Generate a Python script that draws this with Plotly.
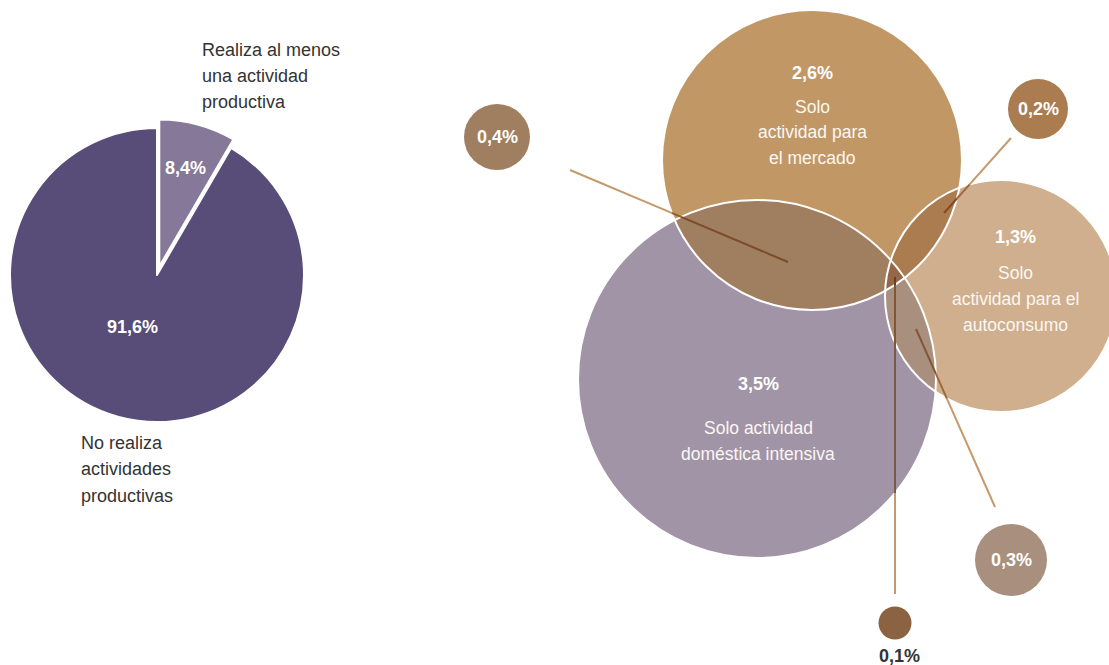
import numpy as np
import plotly.graph_objects as go

# ---------------- data ----------------
pie_labels = ["Realiza al menos<br>una actividad<br>productiva",
              "No realiza<br>actividades<br>productivas"]
pie_values = [8.4, 91.6]

venn_keys = ["M", "A", "P"]
venn_labels = ["Solo<br>actividad para<br>el mercado",
               "Solo<br>actividad para el<br>autoconsumo",
               "Solo actividad<br>doméstica intensiva"]
venn_values = [2.6, 1.3, 3.5]

overlap_sets = [("P", "M"), ("M", "A"), ("P", "A"), ("P", "M", "A")]
overlap_values = [0.4, 0.2, 0.3, 0.1]


def fmt(v):
    return f"{v:.1f}".replace(".", ",") + "%"


# ---------------- layout / style ----------------
W, H = 1109, 665
FONT = "Liberation Sans, Arial, Helvetica, sans-serif"
DARK = "#333333"

circ = {  # center x, center y, radius (pixels)
    "M": (812, 160, 150),
    "A": (1001, 296, 116),
    "P": (757, 379, 179),
}
region_color = {
    frozenset("M"): "#C19766",
    frozenset("A"): "#CFAF8D",
    frozenset("P"): "#A194A7",
    frozenset("PM"): "#A07E60",
    frozenset("MA"): "#AA7C50",
    frozenset("PA"): "#A98F7D",
    frozenset("PMA"): "#94664A",
}
venn_text_pos = {  # x, pct y, label line ys
    "M": (812, 73, [107, 132, 158]),
    "A": (1015, 237, [273, 299, 325]),
    "P": (758, 384, [428, 454]),
}
bubble_style = [  # cx, cy, r, color, line p0, line p1, text placement
    (497, 137, 33, "#A07E60", (570, 170), (788, 262), "inside"),
    (1038, 109, 30, "#AA7C50", (1011, 138), (944, 213), "inside"),
    (1011, 560, 36, "#A98F7D", (995, 507), (916, 329), "inside"),
    (895, 623, 16.5, "#8B6343", (895, 594), (895, 277), "below"),
]
LINE_BASE = (196, 153, 108)


def hex2rgb(h):
    h = h.lstrip("#")
    return tuple(int(h[i:i + 2], 16) for i in (0, 2, 4))


def inside(pt, k, tol=1e-6):
    cx, cy, r = circ[k]
    return (pt[0] - cx) ** 2 + (pt[1] - cy) ** 2 <= r * r + tol


def region_poly(keys):
    pts = []
    th = np.linspace(0, 2 * np.pi, 1440, endpoint=False)
    for k in keys:
        cx, cy, r = circ[k]
        for t in th:
            p = (cx + r * np.cos(t), cy + r * np.sin(t))
            if all(inside(p, o, tol=1e-3) for o in keys if o != k):
                pts.append(p)
    pts = np.array(pts)
    c = pts.mean(axis=0)
    ang = np.arctan2(pts[:, 1] - c[1], pts[:, 0] - c[0])
    pts = pts[np.argsort(ang)]
    return list(pts[:, 0]) + [pts[0, 0]], list(pts[:, 1]) + [pts[0, 1]]


def line_segments(p0, p1):
    p0, p1 = np.array(p0, float), np.array(p1, float)
    d = p1 - p0
    ts = [0.0, 1.0]
    for k, (cx, cy, r) in circ.items():
        f = p0 - np.array([cx, cy])
        a = d @ d
        b = 2 * f @ d
        c = f @ f - r * r
        disc = b * b - 4 * a * c
        if disc > 0:
            for s in ((-b - np.sqrt(disc)) / (2 * a), (-b + np.sqrt(disc)) / (2 * a)):
                if 0 < s < 1:
                    ts.append(s)
    ts = sorted(ts)
    segs = []
    for t0, t1 in zip(ts[:-1], ts[1:]):
        m = p0 + d * (t0 + t1) / 2
        ks = frozenset(k for k in circ if inside(m, k))
        bg = hex2rgb(region_color[ks]) if ks else (255, 255, 255)
        col = tuple(int(round(LINE_BASE[i] * bg[i] / 255)) for i in range(3))
        a, b = p0 + d * t0, p0 + d * t1
        segs.append((a, b, "rgb(%d,%d,%d)" % col))
    return segs


fig = go.Figure()

# ---------------- pie ----------------
r_pie, pull = 147, 0.06
pcx, pcy = 157, 275
half = r_pie * (1 + pull)
fig.add_trace(go.Pie(
    values=pie_values, labels=pie_labels, sort=False, direction="clockwise",
    rotation=0, pull=[pull, 0], textinfo="none", hoverinfo="skip",
    marker=dict(colors=["#857898", "#574D78"], line=dict(color="white", width=2)),
    domain=dict(x=[(pcx - half) / W, (pcx + half) / W],
                y=[(H - pcy - half) / H, (H - pcy + half) / H]),
    showlegend=False,
))

annotations = []
shapes = []

# pie annotations
pie_pct_pos = [(185, 168), (132, 327)]
for v, (x, y) in zip(pie_values, pie_pct_pos):
    annotations.append(dict(x=x, y=y, text="<b>" + fmt(v) + "</b>", showarrow=False,
                            font=dict(color="white", size=18, family=FONT)))
pie_label_pos = [(200, [50, 76, 102]), (79, [443, 469, 496])]
for lab, (x, ys) in zip(pie_labels, pie_label_pos):
    for line, y in zip(lab.split("<br>"), ys):
        annotations.append(dict(x=x, y=y, text=line, showarrow=False, xanchor="left",
                                font=dict(color=DARK, size=18, family=FONT)))

# ---------------- venn base circles ----------------
for k in ["P", "M", "A"]:
    cx, cy, r = circ[k]
    shapes.append(dict(type="circle", xref="x", yref="y", x0=cx - r, x1=cx + r,
                       y0=cy - r, y1=cy + r, fillcolor=region_color[frozenset(k)],
                       line=dict(width=0), layer="below"))

# overlap regions as filled polygons
for keys in [("P", "M"), ("M", "A"), ("P", "A"), ("P", "M", "A")]:
    xs, ys = region_poly(keys)
    fig.add_trace(go.Scatter(x=xs, y=ys, mode="lines", fill="toself",
                             fillcolor=region_color[frozenset(keys)],
                             line=dict(width=0), hoverinfo="skip", showlegend=False))

# white outlines
for k in ["P", "M", "A"]:
    cx, cy, r = circ[k]
    shapes.append(dict(type="circle", xref="x", yref="y", x0=cx - r, x1=cx + r,
                       y0=cy - r, y1=cy + r, fillcolor="rgba(0,0,0,0)",
                       line=dict(width=2, color="white"), layer="above"))

# venn texts
for k, lab, v in zip(venn_keys, venn_labels, venn_values):
    x, yp, ys = venn_text_pos[k]
    annotations.append(dict(x=x, y=yp, text="<b>" + fmt(v) + "</b>", showarrow=False,
                            font=dict(color="white", size=18, family=FONT)))
    for line, y in zip(lab.split("<br>"), ys):
        annotations.append(dict(x=x, y=y, text=line, showarrow=False,
                                font=dict(color="#FBF7F2", size=17.5, family=FONT)))

# bubbles + leader lines
for v, (bx, by, br, col, p0, p1, tpos) in zip(overlap_values, bubble_style):
    for a, b, lc in line_segments(p0, p1):
        shapes.append(dict(type="line", xref="x", yref="y", x0=a[0], y0=a[1],
                           x1=b[0], y1=b[1], line=dict(color=lc, width=2), layer="above"))
    shapes.append(dict(type="circle", xref="x", yref="y", x0=bx - br, x1=bx + br,
                       y0=by - br, y1=by + br, fillcolor=col, line=dict(width=0),
                       layer="above"))
    if tpos == "inside":
        annotations.append(dict(x=bx, y=by, text="<b>" + fmt(v) + "</b>", showarrow=False,
                                font=dict(color="white", size=18, family=FONT)))
    else:
        annotations.append(dict(x=bx + 4, y=by + br + 16, text="<b>" + fmt(v) + "</b>",
                                showarrow=False,
                                font=dict(color=DARK, size=18, family=FONT)))

fig.update_layout(
    width=W, height=H, margin=dict(l=0, r=0, t=0, b=0),
    paper_bgcolor="white", plot_bgcolor="white",
    xaxis=dict(range=[0, W], visible=False, fixedrange=True),
    yaxis=dict(range=[H, 0], visible=False, fixedrange=True),
    shapes=shapes, annotations=annotations, showlegend=False,
)

fig.write_html("out.html", config={"displayModeBar": False},
               post_script="document.body.style.margin='0px';document.body.style.overflow='hidden';")
